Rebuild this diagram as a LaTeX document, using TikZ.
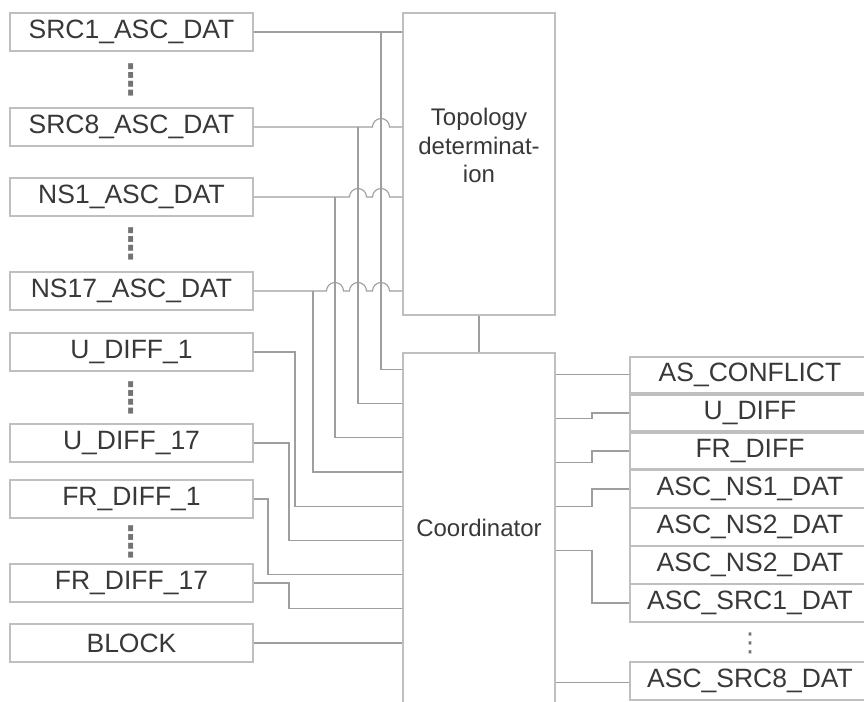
\documentclass[tikz,border=0pt]{standalone}
\usepackage{fontspec}
\setmainfont{Liberation Sans}
\newfontfamily\symfont{DejaVu Sans}
\usetikzlibrary{calc}

\begin{document}
\begin{tikzpicture}[
  x=1pt, y=-1pt,
  font=\fontsize{26.5}{30}\selectfont,
  wire/.style={draw=black!38, line width=1.1pt},
  box/.style={draw=black!25, line width=1.3pt, text=black!78, inner sep=0pt, minimum height=38pt},
  inbox/.style={box, minimum width=243pt},
  outbox/.style={box, minimum width=240pt},
  unit/.style={box, minimum width=152pt, font=\fontsize{24}{28.5}\selectfont, align=center},
  vdots/.style={text=black!55, inner sep=0pt, font=\symfont\fontsize{48}{48}\selectfont}
]
\useasboundingbox (0,0) rectangle (864,701);

% inputs
\node[inbox] (src1)     at (131.5,32)  {SRC1\_ASC\_DAT};
\node[vdots] (dotsrc)   at (131.5,80)  {⁞};
\node[inbox] (src8)     at (131.5,127) {SRC8\_ASC\_DAT};
\node[inbox] (ns1)      at (131.5,197) {NS1\_ASC\_DAT};
\node[vdots] (dotns)    at (131.5,244) {⁞};
\node[inbox] (ns17)     at (131.5,291) {NS17\_ASC\_DAT};
\node[inbox] (udiff1)   at (131.5,352) {U\_DIFF\_1};
\node[vdots] (dotudiff) at (131.5,398) {⁞};
\node[inbox] (udiff17)  at (131.5,443) {U\_DIFF\_17};
\node[inbox] (frdiff1)  at (131.5,499) {FR\_DIFF\_1};
\node[vdots] (dotfr)    at (131.5,542) {⁞};
\node[inbox] (frdiff17) at (131.5,583) {FR\_DIFF\_17};
\node[inbox] (block)    at (131.5,643) {BLOCK};

% processing blocks
\node[unit, minimum height=302pt] (topo)  at (479,164) {Topology\\determinat-\\ion\\\strut};
\node[unit, minimum height=350pt] (coord) at (479,528) {Coordinator};

% outputs
\node[outbox, minimum height=36pt] (asconf) at (750,375) {AS\_CONFLICT};
\node[outbox, minimum height=36pt] (udiff)  at (750,413) {U\_DIFF};
\node[outbox, minimum height=36pt] (frdiff) at (750,451) {FR\_DIFF};
\node[outbox] (ascns1)  at (750,489) {ASC\_NS1\_DAT};
\node[outbox] (ascns2)  at (750,527) {ASC\_NS2\_DAT};
\node[outbox] (ascns2b) at (750,565) {ASC\_NS2\_DAT};
\node[outbox] (ascsrc1) at (750,603) {ASC\_SRC1\_DAT};
\node[vdots, font=\symfont\fontsize{26}{26}\selectfont] (dotasc) at (750,643) {⋮};
\node[outbox] (ascsrc8) at (750,681) {ASC\_SRC8\_DAT};

% bus columns and ports
\coordinate (b1) at (381,0);
\coordinate (b2) at (358,0);
\coordinate (b3) at (335,0);
\coordinate (b4) at (313,0);
\coordinate (c1) at (295,0);
\coordinate (c2) at (289,0);
\coordinate (c3) at (268,0);
\coordinate (r1) at (592,0);
\foreach \i in {1,...,9}
  \coordinate (in\i) at ($(coord.north west)+(0,17+34.2*\i-34.2)$);
\foreach \i in {1,...,8}
  \coordinate (out\i) at ($(coord.north east)+(0,22+44*\i-44)$);

% inputs -> topology / coordinator
\draw[wire] (src1.east) -- (topo.west |- src1.east);
\draw[wire] (b1 |- src1.east) -- (b1 |- in1) -- (in1);
\draw[wire] (src8.east) -- ($(b1 |- src8.east)+(-8.5,0)$) arc[start angle=180, end angle=0, radius=8.5pt]
  -- (topo.west |- src8.east);
\draw[wire] (b2 |- src8.east) -- (b2 |- in2) -- (in2);
\draw[wire] (ns1.east) -- ($(b2 |- ns1.east)+(-8.5,0)$) arc[start angle=180, end angle=0, radius=8.5pt]
  -- ($(b1 |- ns1.east)+(-8.5,0)$) arc[start angle=180, end angle=0, radius=8.5pt]
  -- (topo.west |- ns1.east);
\draw[wire] (b3 |- ns1.east) -- (b3 |- in3) -- (in3);
\draw[wire] (ns17.east) -- ($(b3 |- ns17.east)+(-8.5,0)$) arc[start angle=180, end angle=0, radius=8.5pt]
  -- ($(b2 |- ns17.east)+(-8.5,0)$) arc[start angle=180, end angle=0, radius=8.5pt]
  -- ($(b1 |- ns17.east)+(-8.5,0)$) arc[start angle=180, end angle=0, radius=8.5pt]
  -- (topo.west |- ns17.east);
\draw[wire] (b4 |- ns17.east) -- (b4 |- in4) -- (in4);

\draw[wire] (udiff1.east) -- (c1 |- udiff1.east) -- (c1 |- in5) -- (in5);
\draw[wire] (udiff17.east) -- (c2 |- udiff17.east) -- (c2 |- in6) -- (in6);
\draw[wire] (frdiff1.east) -- (c3 |- frdiff1.east) -- (c3 |- in7) -- (in7);
\draw[wire] (frdiff17.east) -- (c2 |- frdiff17.east) -- (c2 |- in8) -- (in8);
\draw[wire] (block.east) -- (in9 |- block.east);

\draw[wire] (topo.south) -- (coord.north);

% coordinator -> outputs
\draw[wire] (out1) -- (asconf.west |- out1);
\draw[wire] (out2) -- (r1 |- out2) -- (r1 |- udiff.west) -- (udiff.west);
\draw[wire] (out3) -- (r1 |- out3) -- (r1 |- frdiff.west) -- (frdiff.west);
\draw[wire] (out4) -- (r1 |- out4) -- (r1 |- ascns1.west) -- (ascns1.west);
\draw[wire] (out5) -- (r1 |- out5) -- (r1 |- ascsrc1.west) -- (ascsrc1.west);
\draw[wire] (out8) -- (ascsrc8.west |- out8);
\end{tikzpicture}
\end{document}
